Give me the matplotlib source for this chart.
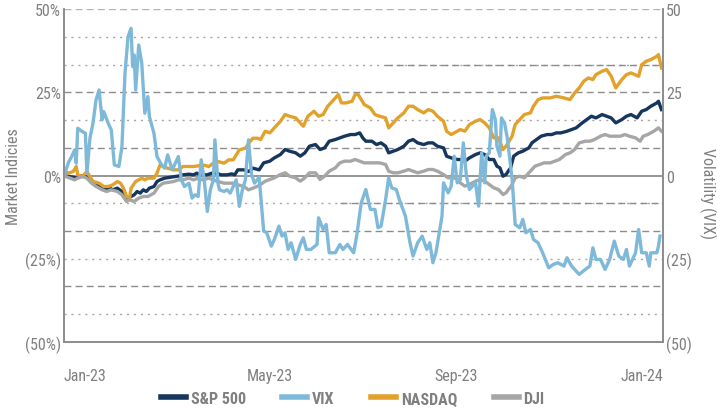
import matplotlib
matplotlib.use("Agg")
import matplotlib.pyplot as plt
import matplotlib.dates as mdates
from matplotlib.lines import Line2D
import pandas as pd

plt.rcParams["font.family"] = ["Roboto Condensed", "Roboto", "DejaVu Sans"]

start = pd.Timestamp("2023-01-03")
end_days = 393

# days since start, % change
spx_days = [0, 3, 6, 8, 11, 14, 16, 18, 21, 25, 28, 30, 32, 35, 38, 40, 42, 46, 48, 50,
            52, 54, 56, 59, 61, 63, 66, 70, 73, 76, 78, 82, 85, 87, 90, 94, 97, 100, 103, 107,
            110, 112, 114, 118, 121, 124, 128, 131, 135, 138, 142, 145, 148, 152, 155, 158, 161, 165, 168, 171,
            174, 178, 181, 184, 188, 191, 194, 196, 198, 202, 205, 208, 211, 213, 216, 219, 223, 226, 229, 232,
            236, 239, 242, 245, 249, 251, 254, 258, 260, 263, 266, 270, 273, 276, 279, 282, 284, 286, 288, 290,
            293, 295, 298, 301, 305, 307, 310, 313, 317, 320, 323, 326, 330, 333, 336, 340, 343, 346, 349, 353,
            356, 359, 362, 366, 369, 372, 376, 379, 382, 385, 389, 390, 392]
spx_vals = [0.0, -0.3, -0.5, -0.8, -0.1, -0.3, -0.8, -1.8, -2.8, -3.8, -4.3, -3.8, -4.3, -3.8, -4.8, -6.3, -6.8, -5.8, -4.8, -5.3,
            -4.3, -4.8, -3.8, -3.3, -1.8, -1.3, -0.8, -0.5, -0.3, -0.1, 0.2, 0.4, 0.2, 0.7, 0.2, 0.2, 0.7, 0.7, 0.2, 0.2,
            0.5, 0.2, 1.7, 1.7, 1.2, 2.2, 1.7, 3.8, 4.3, 5.3, 6.3, 7.8, 7.3, 6.8, 5.8, 6.8, 8.8, 9.3, 7.8, 8.3,
            10.3, 10.8, 11.3, 11.8, 12.3, 12.3, 12.8, 11.3, 10.3, 10.3, 9.3, 9.8, 8.8, 6.8, 7.3, 7.8, 8.8, 10.3, 10.8, 9.8,
            9.3, 9.8, 9.8, 8.8, 8.3, 5.8, 5.3, 4.8, 4.8, 4.3, 5.3, 6.3, 6.8, 6.3, 4.8, 4.8, 2.8, 2.3, -0.2, 0.3,
            2.3, 5.8, 6.8, 7.3, 8.3, 9.8, 10.8, 11.8, 12.3, 12.3, 12.8, 12.8, 13.3, 13.8, 14.3, 15.8, 16.8, 17.8, 17.3, 18.3,
            17.8, 17.3, 15.8, 16.8, 17.8, 18.3, 17.3, 19.3, 19.8, 20.8, 21.8, 22.3, 19.8]

ndx_days = [0, 1, 3, 6, 8, 9, 12, 15, 17, 19, 23, 26, 29, 32, 35, 37, 39, 41, 43, 44,
            47, 49, 51, 53, 55, 59, 61, 63, 65, 68, 72, 75, 78, 82, 85, 88, 91, 95, 98, 101,
            105, 108, 111, 113, 115, 119, 122, 124, 127, 129, 132, 135, 138, 142, 145, 148, 152, 155, 157, 160,
            164, 167, 170, 173, 177, 180, 182, 185, 189, 191, 193, 195, 197, 201, 204, 207, 211, 213, 216, 219,
            223, 226, 229, 232, 236, 239, 242, 245, 249, 251, 254, 256, 260, 263, 266, 270, 273, 276, 279, 282,
            285, 288, 290, 294, 296, 299, 302, 306, 308, 311, 314, 319, 323, 328, 332, 335, 338, 341, 344, 347,
            349, 353, 356, 359, 362, 366, 369, 372, 377, 379, 382, 385, 389, 390, 392]
ndx_vals = [0.0, 1.2, 0.7, 1.2, 2.7, 0.2, -0.3, 1.2, -0.3, -1.8, -2.3, -3.3, -3.3, -2.8, -1.8, -2.3, -3.8, -6.3, -6.8, -3.8,
            -1.8, -1.3, -0.8, -1.3, -0.8, -0.8, 0.7, 3.2, 2.7, 2.2, 1.7, 1.7, 2.7, 2.7, 2.7, 2.9, 3.2, 2.7, 3.7, 4.2,
            3.7, 4.7, 4.7, 6.2, 7.7, 8.2, 10.2, 11.2, 11.2, 10.8, 13.3, 12.8, 14.3, 16.3, 18.3, 17.8, 17.3, 15.8, 14.8, 17.8,
            19.3, 17.8, 18.3, 20.8, 22.8, 24.3, 21.8, 21.8, 22.3, 24.3, 24.3, 22.8, 21.3, 20.3, 18.3, 17.8, 17.3, 14.3, 15.8, 17.3,
            18.8, 20.8, 20.8, 19.8, 18.8, 19.8, 19.3, 17.8, 16.3, 13.3, 12.3, 12.8, 13.8, 13.3, 15.3, 16.3, 16.8, 15.8, 14.3, 11.3,
            11.3, 7.8, 8.8, 11.8, 15.3, 16.8, 18.3, 18.8, 20.8, 22.8, 23.3, 23.3, 23.8, 23.3, 22.8, 24.8, 26.3, 28.3, 29.3, 28.8,
            30.3, 31.3, 31.8, 29.8, 26.3, 28.8, 30.3, 30.8, 29.8, 33.3, 34.3, 34.8, 35.8, 36.3, 32.3]

dji_days = [0, 1, 4, 7, 9, 12, 15, 18, 21, 25, 28, 31, 35, 38, 41, 43, 46, 49, 52, 55,
            59, 62, 65, 68, 72, 75, 78, 82, 85, 88, 91, 95, 98, 101, 105, 108, 111, 114, 118, 121,
            124, 128, 132, 135, 138, 142, 145, 148, 152, 155, 158, 161, 165, 168, 171, 174, 178, 181, 184, 188,
            191, 194, 197, 201, 204, 207, 211, 213, 216, 219, 223, 226, 229, 232, 236, 239, 242, 245, 249, 252,
            255, 258, 260, 263, 266, 270, 273, 276, 279, 282, 285, 288, 290, 294, 296, 299, 302, 306, 309, 312,
            315, 319, 322, 325, 329, 332, 335, 338, 342, 345, 348, 352, 355, 358, 361, 365, 368, 371, 375, 378,
            380, 383, 387, 390, 392]
dji_vals = [0.0, -0.3, -0.8, -1.3, -0.8, -0.3, -0.8, -2.3, -3.3, -4.3, -4.8, -4.3, -4.8, -5.8, -7.8, -7.3, -7.8, -6.8, -6.3, -6.3,
            -5.3, -3.3, -2.3, -2.1, -1.8, -1.3, -1.3, -0.8, -1.3, -0.8, -1.3, -0.8, -1.3, -1.8, -2.3, -2.3, -2.3, -2.8, -3.3, -4.3,
            -3.8, -3.0, -1.7, -1.2, -0.7, 0.3, 0.8, -0.2, -0.7, -1.7, -0.7, 0.8, 0.8, -1.2, -0.2, 1.3, 2.3, 3.8, 4.3, 4.3,
            4.8, 4.3, 3.8, 3.8, 3.8, 3.8, 3.3, 1.3, 0.8, 0.8, 1.3, 1.8, 1.3, 0.8, 1.3, 1.8, 1.8, 1.3, 0.3, -0.7,
            -0.7, -1.0, -2.2, -3.2, -2.7, -1.7, -1.2, -1.7, -2.7, -3.7, -4.2, -5.7, -5.2, -2.7, -0.7, -0.2, -0.7, 1.3, 2.8, 3.3,
            3.8, 3.8, 4.3, 4.8, 6.3, 6.8, 7.8, 9.8, 10.3, 10.3, 10.8, 11.8, 12.3, 11.8, 11.8, 11.8, 12.3, 11.8, 11.3, 10.3,
            11.8, 12.3, 13.3, 14.3, 13.3]

vix_days = [0, 3, 5, 7, 8, 9, 12, 14, 15, 17, 19, 21, 23, 25, 26, 29, 31, 33, 36, 38,
            40, 42, 44, 45, 46, 47, 49, 51, 53, 55, 56, 59, 61, 64, 66, 68, 71, 73, 75, 77,
            79, 82, 84, 86, 88, 90, 92, 94, 96, 98, 99, 101, 102, 105, 107, 109, 111, 113, 115, 117,
            119, 121, 123, 125, 128, 131, 133, 136, 138, 141, 143, 145, 147, 149, 152, 155, 157, 159, 162, 166,
            167, 170, 172, 174, 178, 181, 183, 186, 190, 192, 195, 198, 201, 204, 206, 208, 211, 213, 215, 218,
            220, 224, 227, 229, 232, 235, 238, 240, 242, 244, 248, 249, 252, 254, 256, 258, 260, 262, 264, 266,
            270, 272, 274, 276, 277, 279, 281, 283, 284, 286, 287, 289, 291, 294, 296, 299, 301, 303, 306, 308,
            311, 314, 318, 321, 324, 328, 330, 333, 335, 338, 342, 345, 347, 349, 352, 355, 358, 361, 364, 367,
            369, 371, 375, 377, 379, 382, 384, 385, 389, 390, 391]
vix_vals = [0.0, 4.0, 5.7, 7.7, 3.7, 14.2, 13.2, 12.7, 0.7, 11.2, 15.7, 22.7, 25.7, 16.7, 19.2, 15.7, 13.7, 3.2, 2.7, 8.7,
            30.7, 41.7, 44.2, 32.7, 36.2, 25.7, 39.2, 33.7, 18.7, 23.7, 17.7, 12.7, 5.7, 3.2, 2.2, 6.2, 1.7, 3.7, 5.7, -1.3,
            -3.3, -2.3, -6.8, -5.8, -6.3, 4.7, -1.3, -10.8, -4.3, -1.3, 10.7, -2.3, -4.3, -4.8, -4.3, -5.3, -3.3, -1.3, -9.3, -4.3,
            -1.3, 10.7, 0.3, -2.3, -0.5, -16.7, -17.2, -21.2, -19.2, -15.2, -18.2, -17.2, -22.2, -20.2, -25.2, -20.7, -18.7, -22.2, -22.2, -20.7,
            -12.7, -16.2, -14.7, -23.2, -23.2, -20.7, -22.2, -20.7, -23.2, -18.2, -8.2, -4.2, -10.2, -10.2, -15.7, -15.2, -7.2, -0.7, -3.7, -4.2,
            -7.2, -12.2, -20.2, -24.2, -20.2, -18.2, -22.2, -20.2, -26.2, -23.2, -12.2, -2.2, -5.2, -3.2, 5.8, -2.2, -1.2, 9.8, -0.2, -4.2,
            -2.2, -9.2, 6.8, -2.2, 5.8, 6.8, 19.8, 16.8, 8.8, 5.8, 17.3, 15.8, 10.8, -1.2, -14.7, -15.7, -13.2, -17.2, -16.2, -19.2,
            -20.2, -23.2, -27.7, -26.7, -26.2, -27.2, -24.7, -27.2, -28.2, -29.7, -28.2, -27.2, -21.7, -25.2, -25.2, -28.2, -25.2, -19.7, -24.2, -25.2,
            -22.2, -27.2, -23.2, -16.2, -23.2, -23.2, -27.2, -23.2, -23.2, -21.2, -18.2]

tick_dates = ["2023-01-17", "2023-05-18", "2023-09-17", "2024-01-17"]
left_ticks = [-50, -25, 0, 25, 50]
left_labels = ["(50%)", "(25%)", "0%", "25%", "50%"]
right_labels = ["(50)", "(25)", "0", "25", "50"]

names = ["S&P 500", "VIX", "NASDAQ", "DJI"]
colors = {"S&P 500": "#17365d", "VIX": "#7fb9da", "NASDAQ": "#e2a12a", "DJI": "#a6a6a6"}

# horizontal guide lines: (level, style, colour)
grid_lines = [
    (50, "dash", "#b3b3b3"), (41.67, "dot", "#a6a6a6"), (33.33, "dot", "#a6a6a6"),
    (25, "dash", "#8c8c8c"), (16.67, "dot", "#a6a6a6"), (8.33, "dash", "#8c8c8c"),
    (-8.33, "dot", "#a6a6a6"), (-16.67, "dash", "#8c8c8c"), (-25, "dot", "#a6a6a6"),
    (-33.33, "dash", "#8c8c8c"), (-41.67, "dot", "#a6a6a6"),
]
styles = {"dash": (0, (5, 3)), "dot": (0, (1.5, 3.5))}
fs = 11.5


def to_dates(days):
    return start + pd.to_timedelta(days, unit="D")


fig = plt.figure(figsize=(7.17, 4.10), dpi=100)
ax = fig.add_axes([0.0893, 0.1634, 0.8354, 0.8122])
ax2 = ax.twinx()

for val, st, col in grid_lines:
    ax.axhline(val, color=col, lw=1, linestyle=styles[st], zorder=0)
# a couple of lines switch style part way
ax.axhline(33.33, xmin=0.536, xmax=1, color="#8c8c8c", lw=1, linestyle=styles["dash"], zorder=0.5)
ax.axhline(-8.33, xmin=0.46, xmax=1, color="#8c8c8c", lw=1, linestyle=styles["dash"], zorder=0.5)
ax.axhline(0, color="#8c8c8c", lw=1.3, zorder=1)

ax.plot(to_dates(spx_days), spx_vals, color=colors["S&P 500"], lw=2.4, zorder=2)
ax.plot(to_dates(ndx_days), ndx_vals, color=colors["NASDAQ"], lw=2.4, zorder=3)
ax.plot(to_dates(dji_days), dji_vals, color=colors["DJI"], lw=2.4, zorder=4)
ax2.plot(to_dates(vix_days), vix_vals, color=colors["VIX"], lw=2.4)

ax.set_xlim(start, start + pd.Timedelta(days=end_days))
ax.set_ylim(-50, 50)
ax2.set_ylim(-50, 50)

ax.set_xticks([pd.Timestamp(d) for d in tick_dates])
ax.xaxis.set_major_formatter(mdates.DateFormatter("%b-%y"))
ax.set_yticks(left_ticks)
ax.set_yticklabels(left_labels)
ax2.set_yticks(left_ticks)
ax2.set_yticklabels(right_labels)

grey = "#7f7f7f"
for a in (ax, ax2):
    a.tick_params(axis="both", length=0, labelsize=fs, colors=grey)
    a.spines["top"].set_visible(False)
    for s in ("left", "right", "bottom"):
        a.spines[s].set_color("#8c8c8c")
        a.spines[s].set_linewidth(1.2)
ax.tick_params(axis="x", pad=19)
ax.tick_params(axis="y", pad=2)
ax2.tick_params(axis="y", pad=2)

ax.set_ylabel("Market Indicies", fontsize=fs, color=grey)
ax.yaxis.set_label_coords(-0.072, 0.5)
ax2.set_ylabel("Volatility (VIX)", fontsize=fs, color=grey, rotation=270, va="center")
ax2.yaxis.set_label_coords(1.074, 0.45)

handles = [Line2D([0], [0], color=colors[n], lw=4) for n in names]
leg = fig.legend(handles, names, loc="center", bbox_to_anchor=(0.492, 0.026), ncol=4,
                 frameon=False, handlelength=1.55, handletextpad=0.3, columnspacing=2.3,
                 prop={"size": fs, "weight": "bold"})
for t in leg.get_texts():
    t.set_color(grey)

plt.savefig("out.png", dpi=100)
plt.close()
